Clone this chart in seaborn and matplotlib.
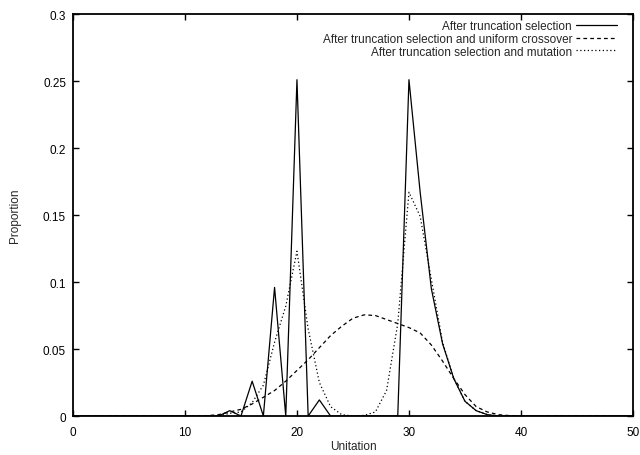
import matplotlib
matplotlib.use("Agg")
import matplotlib.pyplot as plt
import seaborn as sns
import pandas as pd
from matplotlib.ticker import FuncFormatter

unitation = list(range(0, 51))

truncation = [0, 0, 0, 0, 0, 0, 0, 0, 0, 0,
              0, 0, 0, 0, 0.004, 0, 0.026, 0, 0.096, 0,
              0.251, 0, 0.012, 0, 0, 0, 0, 0, 0, 0,
              0.251, 0.167, 0.095, 0.054, 0.028, 0.011, 0.004, 0.001, 0, 0,
              0, 0, 0, 0, 0, 0, 0, 0, 0, 0, 0]

crossover = [0, 0, 0, 0, 0, 0, 0, 0, 0, 0,
             0, 0, 0.0003, 0.001, 0.003, 0.005, 0.009, 0.014, 0.019, 0.026,
             0.034, 0.042, 0.051, 0.060, 0.067, 0.073, 0.0755, 0.075, 0.072, 0.069,
             0.066, 0.062, 0.053, 0.041, 0.028, 0.016, 0.007, 0.003, 0.001, 0.0003,
             0, 0, 0, 0, 0, 0, 0, 0, 0, 0, 0]

mutation = [0, 0, 0, 0, 0, 0, 0, 0, 0, 0,
            0, 0, 0, 0, 0.002, 0.003, 0.010, 0.023, 0.055, 0.082,
            0.123, 0.065, 0.025, 0.007, 0.001, 0, 0.0005, 0.003, 0.019, 0.069,
            0.167, 0.149, 0.102, 0.055, 0.028, 0.011, 0.004, 0.001, 0, 0,
            0, 0, 0, 0, 0, 0, 0, 0, 0, 0, 0]

labels = ["After truncation selection",
          "After truncation selection and uniform crossover",
          "After truncation selection and mutation"]

df = pd.DataFrame({
    "Unitation": unitation * 3,
    "Proportion": truncation + crossover + mutation,
    "series": [labels[0]] * 51 + [labels[1]] * 51 + [labels[2]] * 51,
})

sns.set_style("ticks")
plt.rcParams["font.family"] = ["Liberation Sans", "DejaVu Sans"]
plt.rcParams["font.size"] = 8.5

fig = plt.figure(figsize=(6.4, 4.56), dpi=100)
ax = fig.add_axes([0.114, 0.0855, 0.875, 0.8815])

styles = {labels[0]: "-",
          labels[1]: (0, (3, 2.5)),
          labels[2]: (0, (1, 2))}
for lab in labels:
    sub = df[df["series"] == lab]
    sns.lineplot(data=sub, x="Unitation", y="Proportion", ax=ax, color="black",
                 linewidth=0.9, linestyle=styles[lab], label=lab)

ax.set_xlim(0, 50)
ax.set_ylim(0, 0.3)
ax.set_xticks([0, 10, 20, 30, 40, 50])
ax.set_yticks([0, 0.05, 0.1, 0.15, 0.2, 0.25, 0.3])
ax.yaxis.set_major_formatter(FuncFormatter(lambda v, p: "%g" % round(v, 3)))
ax.tick_params(direction="in", length=4, width=1, top=True, right=True,
               labelsize=8.5, colors="black", pad=5)
ax.tick_params(axis="x", pad=7)
for s in ax.spines.values():
    s.set_visible(True)
    s.set_linewidth(1.3)
    s.set_color("black")
ax.set_xlabel("Unitation", fontsize=8.5, labelpad=1.5)
ax.set_ylabel("Proportion", fontsize=8.5, labelpad=16)

leg = ax.legend(loc="upper right", bbox_to_anchor=(0.985, 1.002), frameon=False,
                markerfirst=False, handlelength=3.5, handletextpad=0.35,
                labelspacing=0.05, borderaxespad=0.2, fontsize=8.5)

fig.savefig("out.png", dpi=100)
